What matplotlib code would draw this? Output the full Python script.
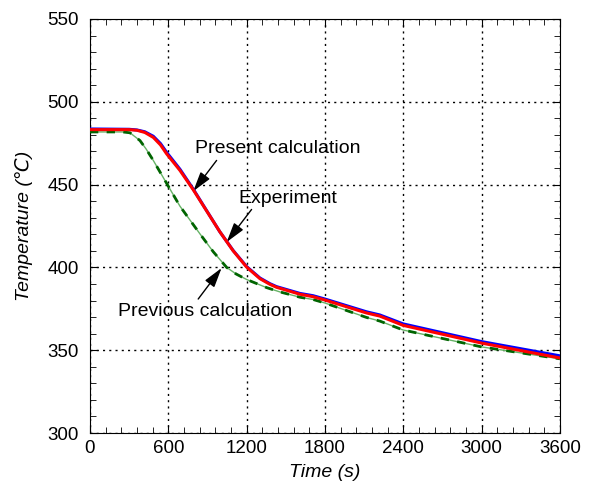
import matplotlib.pyplot as plt
from matplotlib.ticker import MultipleLocator

# present calculation (red)
t_present = [0, 300, 360, 420, 485, 540, 587, 689, 791, 880, 995, 1097, 1200, 1302, 1378, 1429, 1608, 1710, 1800, 2118, 2220, 2399, 3000, 3600]
T_present = [483.2, 483.2, 482.8, 481.5, 478.5, 474.0, 468.6, 458.6, 446.9, 435.8, 421.5, 410.0, 400.2, 393.2, 389.8, 388.0, 383.8, 382.3, 380.3, 372.5, 370.6, 365.0, 354.3, 345.3]

# experiment (blue)
t_exp = [0, 300, 360, 420, 485, 540, 587, 689, 791, 880, 995, 1097, 1200, 1302, 1378, 1429, 1608, 1710, 1800, 2118, 2220, 2399, 3000, 3600]
T_exp = [483.6, 483.4, 483.0, 481.9, 479.2, 474.8, 469.5, 459.3, 447.3, 436.0, 421.5, 410.2, 400.5, 393.6, 390.2, 388.4, 384.3, 382.9, 380.9, 373.2, 371.3, 365.9, 355.2, 346.6]

# previous calculation (green)
t_prev = [0, 250, 306, 383, 430, 485, 587, 689, 842, 944, 1047, 1120, 1200, 1353, 1455, 1608, 1710, 1800, 2118, 2220, 2399, 3000, 3600]
T_prev = [481.8, 481.8, 481.3, 476.6, 471.5, 464.6, 450.8, 437.0, 420.3, 409.5, 400.0, 396.0, 392.7, 387.8, 385.2, 382.0, 380.6, 378.5, 369.8, 367.6, 362.2, 352.0, 344.8]

plt.rcParams['font.family'] = ['Liberation Sans', 'DejaVu Sans']

fig = plt.figure(figsize=(5.90, 4.96), dpi=100)
ax = fig.add_axes([0.1525, 0.127, 0.7965, 0.8347])

ax.plot(t_prev, T_prev, color='#66b266', lw=1.0, zorder=3)
ax.plot(t_prev, T_prev, color='#006400', lw=2.0, ls=(0, (3, 3)), zorder=3)
ax.plot(t_exp, T_exp, color='#0000ff', lw=2.2, zorder=4)
ax.plot(t_present, T_present, color='#ff0000', lw=2.2, zorder=5)

ax.set_xlim(0, 3600)
ax.set_ylim(300, 550)
ax.xaxis.set_major_locator(MultipleLocator(600))
ax.xaxis.set_minor_locator(MultipleLocator(120))
ax.yaxis.set_major_locator(MultipleLocator(50))
ax.yaxis.set_minor_locator(MultipleLocator(10))
ax.tick_params(which='both', direction='in', top=True, right=True, labelsize=13.5)
ax.tick_params(axis='x', pad=5)
ax.tick_params(axis='y', pad=8)
ax.tick_params(which='major', length=6)
ax.tick_params(which='minor', length=4)
ax.grid(True, which='major', color='black', ls=(0, (1.5, 3)), lw=1.0)

ax.set_xlabel('Time (s)', fontsize=14, style='italic', labelpad=5)
ax.set_ylabel('Temperature (℃)', fontsize=14, style='italic', labelpad=10)

arrow = dict(arrowstyle='-|>,head_length=1.2,head_width=0.35', color='black', lw=1.0,
             mutation_scale=10, shrinkA=0, shrinkB=0)
ax.annotate('', xy=(791, 446), xytext=(970, 464.6), arrowprops=arrow)
ax.annotate('', xy=(1047, 415.3), xytext=(1238, 435), arrowprops=arrow)
ax.annotate('', xy=(1008, 399.6), xytext=(829, 380.9), arrowprops=arrow)
ax.text(804, 472.1, 'Present calculation', fontsize=14, va='center', ha='left')
ax.text(1136, 441.9, 'Experiment', fontsize=14, va='center', ha='left')
ax.text(214, 373.2, 'Previous calculation', fontsize=14, va='center', ha='left')

fig.savefig('out.png', dpi=100)
